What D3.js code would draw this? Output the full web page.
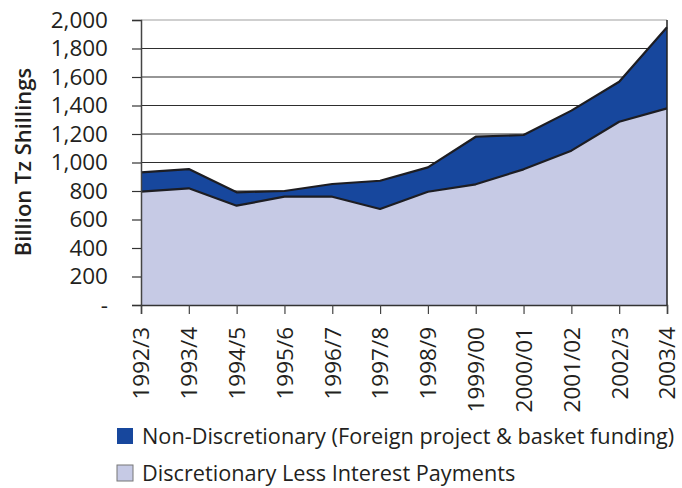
<!DOCTYPE html>
<html lang="en">
<head>
<meta charset="utf-8">
<title>Billion Tz Shillings</title>
<script src="https://cdn.jsdelivr.net/npm/d3@7"></script>
<style>
  body { margin: 0; background: #fff; }
  text { font-family: "Open Sans", "DejaVu Sans", sans-serif; fill: #231f20; }
</style>
</head>
<body>
<script>
// values
var years = ["1992/3", "1993/4", "1994/5", "1995/6", "1996/7", "1997/8",
             "1998/9", "1999/00", "2000/01", "2001/02", "2002/3", "2003/4"];
var discretionary = [795, 819, 697, 760, 760, 674, 795, 847, 952, 1083, 1286, 1380];
var nonDiscretionary = [136, 135, 94, 40, 89, 198, 171, 334, 241, 281, 281, 569];
var yTicks = [0, 200, 400, 600, 800, 1000, 1200, 1400, 1600, 1800, 2000];
var seriesNames = ["Non-Discretionary (Foreign project & basket funding)",
                   "Discretionary Less Interest Payments"];

var W = 682, H = 488;
var plotLeft = 141, plotRight = 667, plotTop = 20, plotBottom = 305;

var svg = d3.select("body").append("svg")
    .attr("width", W)
    .attr("height", H);

var x = d3.scalePoint().domain(years).range([plotLeft, plotRight]);
var y = d3.scaleLinear().domain([0, 2000]).range([plotBottom, plotTop]);

var rows = years.map(function(yr, i) {
    return { year: yr, disc: discretionary[i], non: nonDiscretionary[i] };
});
var layers = d3.stack().keys(["disc", "non"])(rows);

// grid
svg.append("g").selectAll("line")
    .data(yTicks.slice(1))
    .enter().append("line")
    .attr("x1", plotLeft).attr("x2", plotRight)
    .attr("y1", function(d) { return y(d); })
    .attr("y2", function(d) { return y(d); })
    .attr("stroke", function(d) { return d == 2000 ? "#a0a0a0" : "#2e2e2e"; })
    .attr("stroke-width", 1.2);

var colors = ["#c6cae5", "#17479d"];
var area = d3.area()
    .x(function(d) { return x(d.data.year); })
    .y0(function(d) { return y(d[0]); })
    .y1(function(d) { return y(d[1]); });

svg.append("g").selectAll("path")
    .data(layers)
    .enter().append("path")
    .attr("d", area)
    .attr("fill", function(d, i) { return colors[i]; });

var line = d3.line()
    .x(function(d) { return x(d.data.year); })
    .y(function(d) { return y(d[1]); });

svg.append("g").selectAll("path")
    .data(layers)
    .enter().append("path")
    .attr("d", line)
    .attr("fill", "none")
    .attr("stroke", "#1d1d22")
    .attr("stroke-width", 2.2)
    .attr("stroke-linejoin", "round");

// right border
svg.append("line")
    .attr("x1", plotRight).attr("x2", plotRight)
    .attr("y1", plotTop).attr("y2", plotBottom)
    .attr("stroke", "#222").attr("stroke-width", 1.5);

// y axis
var yAxis = d3.axisLeft(y)
    .tickValues(yTicks)
    .tickSize(9)
    .tickPadding(24)
    .tickFormat(function(d) { return d == 0 ? "-" : d3.format(",")(d); });

var gy = svg.append("g")
    .attr("transform", "translate(" + plotLeft + ",0)")
    .call(yAxis);
gy.select(".domain").attr("stroke", "#444").attr("stroke-width", 1.5);
gy.selectAll(".tick line").attr("stroke", "#333").attr("stroke-width", 1.2);
gy.selectAll(".tick text")
    .attr("font-size", 22.5)
    .attr("font-family", "Open Sans, sans-serif")
    .attr("fill", "#231f20");

// x axis
var xAxis = d3.axisBottom(x).tickSize(9);
var gx = svg.append("g")
    .attr("transform", "translate(0," + plotBottom + ")")
    .call(xAxis);
gx.select(".domain").attr("stroke", "#333").attr("stroke-width", 1.5);
gx.selectAll(".tick line").attr("stroke", "#444").attr("stroke-width", 1.2);
gx.selectAll(".tick text")
    .attr("font-size", 22.5)
    .attr("font-family", "Liberation Sans, Arial, sans-serif")
    .attr("fill", "#231f20")
    .attr("transform", "rotate(-90)")
    .attr("x", -22)
    .attr("y", 0)
    .attr("dy", "0.35em")
    .style("text-anchor", "end");

// y title
svg.append("text")
    .attr("transform", "translate(31,162) rotate(-90)")
    .attr("text-anchor", "middle")
    .attr("font-size", 22)
    .attr("font-weight", 600)
    .text("Billion Tz Shillings");

// legend
var legendColors = [colors[1], colors[0]];
var leg = svg.append("g").selectAll("g")
    .data(seriesNames)
    .enter().append("g")
    .attr("transform", function(d, i) { return "translate(117," + (428 + i * 37) + ")"; });
leg.append("rect")
    .attr("width", 16).attr("height", 16)
    .attr("fill", function(d, i) { return legendColors[i]; })
    .attr("stroke", function(d, i) { return i == 1 ? "#777" : "none"; });
leg.append("text")
    .attr("x", 25).attr("y", 8)
    .attr("dy", "0.36em")
    .attr("font-size", 21.7)
    .text(function(d) { return d; });
</script>
</body>
</html>
